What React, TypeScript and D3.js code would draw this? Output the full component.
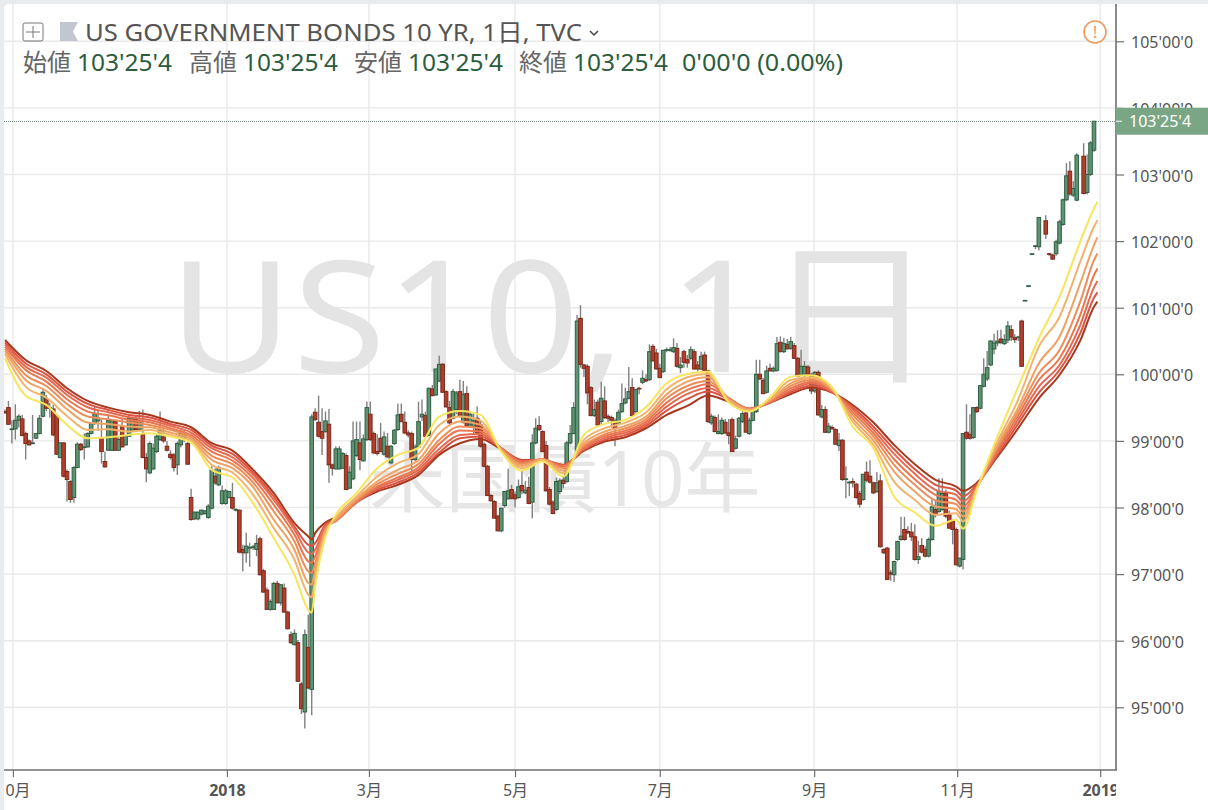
import { useEffect, useRef } from 'react';
import * as d3 from 'd3';

const FONT = "'Noto Sans','Noto Sans CJK JP',sans-serif";

const titleText = 'US GOVERNMENT BONDS 10 YR, 1日, TVC';
const ohlcLabels = ['始値', '高値', '安値', '終値'];
const ohlcLabelX = [23, 189, 354, 519];
const lastPriceText = "103'25'4";
const changeText = "0'00'0 (0.00%)";

const priceTicks = [95, 96, 97, 98, 99, 100, 101, 102, 103, 104, 105];
const monthLabels = ['10月', '2018', '3月', '5月', '7月', '9月', '11月', '2019'];
const monthDays = [2.3, 64.4, 105.6, 148, 190, 234.8, 276.3, 317.8];
const lastClose = 103.8;

const opens = [
  99.44,99.50,99.17,99.18,99.31,99.33,99.11,99.00,98.96,99.04,
  99.11,99.37,99.63,99.49,99.48,99.38,98.75,98.97,98.54,98.39,
  98.15,98.60,98.95,98.90,98.91,99.11,99.26,99.30,99.05,98.69,
  98.86,98.86,99.29,98.86,99.22,98.94,99.07,99.16,99.33,99.17,
  99.11,98.75,98.52,98.58,98.84,99.02,99.06,98.92,98.80,98.79,
  98.64,98.94,99.05,98.96,98.15,97.83,97.83,97.90,97.91,97.85,
  97.99,98.47,98.34,98.06,98.06,98.15,98.15,97.96,97.96,97.37,
  97.32,97.39,97.40,97.37,97.53,97.05,96.76,96.47,96.47,96.86,
  96.57,96.79,96.43,96.09,95.94,95.97,95.35,94.93,95.90,95.27,
  99.43,99.28,99.14,99.14,99.25,98.64,98.58,98.58,98.59,98.78,
  98.29,98.43,98.78,98.97,98.70,99.02,99.40,99.11,98.84,99.04,
  98.80,98.92,98.67,98.96,99.17,99.40,99.28,99.12,99.11,98.72,
  98.91,99.36,99.38,99.08,99.78,99.69,99.90,100.15,99.74,99.50,
  99.34,99.47,99.74,99.28,99.71,99.24,99.20,99.34,99.24,98.95,
  98.62,98.18,98.09,97.87,97.65,98.03,98.13,98.27,98.19,98.15,
  98.33,98.22,98.30,98.08,98.97,99.23,99.14,98.93,98.27,98.08,
  97.97,98.24,98.41,98.39,98.97,99.11,98.78,100.84,100.14,100.12,
  99.80,99.38,99.58,99.29,99.60,99.37,99.35,99.30,99.27,99.44,
  99.57,99.64,99.80,99.44,99.79,99.88,99.92,99.92,100.42,100.32,
  100.09,100.04,100.36,100.36,100.34,100.39,100.10,100.34,100.22,100.24,
  100.34,100.14,100.08,100.29,100.05,99.27,99.35,99.11,99.11,99.28,
  99.12,99.32,98.89,99.07,99.29,99.42,99.11,99.31,99.44,100.0,
  99.91,99.73,100.09,100.05,100.06,100.48,100.34,100.45,100.39,100.43,
  100.24,100.00,100.0,100.11,100.0,99.75,100.03,99.36,99.47,99.13,
  99.20,99.17,98.93,99.01,98.42,98.37,98.39,98.35,98.21,98.12,
  98.53,98.47,98.37,98.24,98.40,97.37,97.39,97.02,96.99,97.22,
  97.52,97.67,97.64,97.63,97.56,97.22,97.43,97.37,97.27,97.52,
  97.97,97.94,97.97,98.21,97.89,97.79,97.67,97.12,97.22,99.13,
  99.10,99.05,99.50,99.49,99.82,99.93,100.14,100.38,100.47,100.53,
  100.46,100.515,100.67,100.55,100.55,100.80,101.10,101.32,101.80,101.92,
  101.915,null,102.305,101.81,101.79,101.81,101.97,102.25,102.62,103.05,
  102.69,102.615,null,103.275,102.73,103.0,103.365,
];

const highs = [
  99.47,99.60,99.31,99.55,99.40,99.39,99.14,99.02,99.39,99.12,
  99.39,99.79,99.69,99.57,99.54,99.41,98.98,98.98,98.57,98.41,
  98.62,98.98,98.97,99.11,99.13,99.27,99.52,99.45,99.32,98.84,
  99.38,99.33,99.32,99.05,99.34,99.09,99.38,99.36,99.38,99.45,
  99.47,98.82,98.99,98.96,99.10,99.44,99.18,99.00,98.86,98.82,
  98.99,99.17,99.16,99.00,98.28,97.94,97.94,97.97,97.96,98.05,
  98.62,98.59,98.63,98.33,98.28,98.25,98.37,97.99,97.97,97.44,
  97.62,97.47,97.44,97.59,97.56,97.08,96.80,96.62,96.88,96.90,
  96.85,96.86,96.45,96.14,96.17,96.01,95.38,96.17,96.39,99.40,
  99.49,99.68,99.49,99.44,99.48,98.66,98.92,98.92,98.83,98.81,
  98.62,99.29,99.29,99.29,99.10,99.59,99.59,99.14,99.10,99.27,
  99.14,99.12,98.94,99.18,99.56,99.56,99.44,99.16,99.14,98.95,
  99.59,99.62,99.44,99.80,99.84,100.08,100.28,100.17,99.76,99.60,
  99.78,99.75,99.92,99.90,99.82,99.45,99.42,99.52,99.30,98.98,
  98.64,98.20,98.11,97.89,97.99,98.25,98.58,98.34,98.24,98.42,
  98.55,98.40,98.46,99.10,99.34,99.37,99.16,99.00,98.31,98.11,
  98.45,98.44,98.46,99.00,99.24,99.58,100.89,101.04,100.16,100.15,
  99.82,99.62,99.62,99.89,99.82,99.40,99.38,99.34,99.47,99.86,
  99.80,100.11,99.94,99.78,99.81,100.06,100.0,100.45,100.45,100.38,
  100.16,100.37,100.40,100.41,100.54,100.47,100.26,100.37,100.29,100.42,
  100.38,100.2,100.34,100.34,100.07,99.41,99.38,99.40,99.35,99.33,
  99.33,99.35,99.08,99.36,99.46,99.45,99.35,99.48,100.22,100.22,
  99.95,100.13,100.16,100.12,100.56,100.57,100.55,100.53,100.56,100.47,
  100.26,100.37,100.20,100.14,100.02,100.05,100.06,99.54,99.52,99.27,
  99.23,99.19,99.12,99.03,98.62,98.40,98.44,98.37,98.25,98.50,
  98.69,98.71,98.39,98.53,98.5,97.39,97.41,97.06,97.2,97.5,
  97.86,97.86,97.72,97.77,97.75,97.5,97.54,97.42,97.55,98.14,
  98.1,98.44,98.44,98.27,97.95,97.82,97.7,97.24,99.12,99.55,
  99.4,99.51,99.52,99.84,100.24,100.35,100.51,100.61,100.66,100.67,
  100.6,100.8,100.74,100.6,100.58,100.82,101.11,101.33,101.81,101.93,
  102.36,null,102.39,101.82,101.81,102.02,102.32,102.64,103.17,103.2,
  102.9,103.32,null,103.47,103.3,103.5,103.80,
];

const lows = [
  99.41,99.24,98.96,99.02,99.20,99.07,98.72,98.93,98.95,99.03,
  99.10,99.35,99.45,99.35,99.07,98.79,98.74,98.45,98.09,98.07,
  98.07,98.59,98.85,98.72,98.90,99.10,99.24,99.15,98.66,98.60,
  98.85,98.85,98.85,98.85,98.90,98.93,99.06,99.14,99.14,99.15,
  98.74,98.38,98.50,98.56,98.82,99.00,98.97,98.84,98.72,98.54,
  98.49,98.90,98.98,98.64,97.80,97.81,97.81,97.88,97.89,97.83,
  97.97,98.34,98.32,98.04,98.04,98.13,97.97,97.94,97.31,97.04,
  97.17,97.11,97.36,97.27,96.98,96.72,96.46,96.45,96.46,96.56,
  96.53,96.42,96.17,95.95,95.93,95.38,94.90,94.68,95.27,94.88,
  99.30,99.05,98.79,99.12,98.37,98.48,98.57,98.57,98.58,98.26,
  98.28,98.41,98.76,98.56,98.69,99.00,99.00,98.80,98.78,98.83,
  98.78,98.75,98.65,98.94,99.15,99.28,99.10,99.05,98.50,98.70,
  98.89,99.30,99.06,99.07,99.67,99.68,99.88,99.72,99.50,99.25,
  99.32,99.40,99.35,99.26,99.22,99.22,99.10,99.10,98.90,98.60,
  98.17,98.09,97.84,97.64,97.63,98.00,98.12,98.12,98.00,98.13,
  98.20,98.20,98.05,97.84,98.95,99.15,98.83,98.24,98.03,97.90,
  97.95,98.20,98.29,98.37,98.95,99.10,98.76,100.10,99.96,99.55,
  99.37,99.36,99.23,99.25,99.33,99.28,99.20,98.92,99.25,99.42,
  99.55,99.62,99.37,99.42,99.70,99.85,99.88,99.90,100.20,100.07,
  99.95,100.02,100.33,100.34,100.32,100.10,100.02,100.10,100.10,100.22,
  100.07,100.04,100.06,100.05,99.27,99.24,99.13,99.10,99.09,99.10,
  98.95,98.84,98.87,99.05,99.27,99.13,99.09,99.29,99.42,99.92,
  99.70,99.71,100.05,100.03,100.04,100.33,100.32,100.38,100.37,100.23,
  99.96,99.98,99.92,99.98,99.70,99.72,99.38,99.34,99.12,99.11,
  99.17,98.95,98.85,98.40,98.14,98.17,98.3,98.13,98.0,98.10,
  98.38,98.36,98.20,98.22,97.40,97.3,96.91,96.9,96.88,97.2,
  97.5,97.5,97.6,97.5,97.2,97.15,97.31,97.25,97.25,97.5,
  97.85,97.92,97.95,97.84,97.68,97.45,97.13,97.1,97.07,99.02,
  99.02,99.03,99.42,99.47,99.8,99.9,100.12,100.3,100.42,100.45,
  100.44,100.47,100.5,100.47,100.5,100.11,101.10,101.32,101.80,101.88,
  101.86,null,102.03,101.78,101.72,101.78,101.95,102.23,102.6,102.68,
  102.66,102.6,null,102.7,102.7,102.98,103.34,
];

const closes = [
  99.42,99.25,99.18,99.31,99.37,99.08,98.96,98.94,98.97,99.11,
  99.34,99.73,99.49,99.50,99.09,98.80,98.97,98.47,98.42,98.12,
  98.60,98.95,98.87,98.91,99.11,99.26,99.41,99.34,98.84,98.61,
  99.31,99.31,98.86,99.02,98.91,99.07,99.34,99.33,99.17,99.30,
  98.75,98.58,98.96,98.89,99.07,99.17,99.00,98.86,98.75,98.60,
  98.96,99.11,99.08,98.65,97.82,97.93,97.93,97.96,97.95,98.02,
  98.56,98.37,98.60,98.25,98.25,98.24,97.99,97.97,97.33,97.32,
  97.42,97.40,97.41,97.46,96.99,96.73,96.47,96.59,96.86,96.57,
  96.84,96.43,96.18,95.97,96.11,95.39,94.98,96.09,95.29,99.36,
  99.32,99.07,99.04,99.30,98.64,98.59,98.88,98.88,98.81,98.27,
  98.53,99.00,99.02,98.72,99.03,99.50,99.02,98.82,98.81,98.84,
  99.06,98.76,98.92,99.16,99.39,99.29,99.12,99.09,98.72,98.91,
  99.29,99.40,99.07,99.79,99.68,100.08,100.15,99.73,99.51,99.27,
  99.74,99.72,99.37,99.70,99.23,99.40,99.30,99.12,98.92,98.62,
  98.18,98.10,97.84,97.65,97.99,98.24,98.25,98.14,98.13,98.31,
  98.25,98.26,98.06,98.97,99.19,99.17,98.84,98.25,98.05,97.91,
  98.39,98.40,98.36,98.97,99.11,99.50,100.80,100.15,100.09,99.72,
  99.38,99.47,99.24,99.64,99.35,99.34,99.31,99.19,99.43,99.56,
  99.63,99.74,99.38,99.77,99.78,99.94,99.90,100.34,100.20,100.08,
  99.95,100.36,100.37,100.37,100.40,100.12,100.14,100.18,100.17,100.37,
  100.08,100.08,100.27,100.06,99.29,99.37,99.14,99.14,99.31,99.12,
  99.08,98.84,99.03,99.34,99.41,99.13,99.31,99.45,100.00,99.93,
  99.71,100.05,100.05,100.09,100.46,100.34,100.46,100.38,100.49,100.24,
  99.97,100.12,100.12,100.0,99.75,100.03,99.39,99.47,99.13,99.22,
  99.18,98.95,99.01,98.42,98.43,98.38,98.37,98.15,98.05,98.50,
  98.41,98.38,98.22,98.37,97.41,97.32,96.92,97.0,97.19,97.49,
  97.57,97.52,97.62,97.56,97.22,97.26,97.33,97.27,97.52,98.01,
  97.89,98.24,98.21,97.87,97.69,97.67,97.14,97.24,99.11,99.04,
  99.04,99.50,99.44,99.83,100.0,100.1,100.5,100.47,100.5,100.48,
  100.52,100.725,100.56,100.52,100.56,100.12,101.11,101.33,101.81,101.93,
  102.355,null,102.105,101.80,101.73,101.99,102.29,102.62,102.98,102.71,
  102.79,103.29,null,102.715,103.0,103.475,103.80,
];

const ribbonDays = [0,6,12,18,24,30,36,42,48,54,60,66,72,78,84,88,89,90,93,96,102,108,114,120,126,132,138,144,150,156,162,168,174,180,186,192,198,204,210,216,222,228,234,240,246,252,258,264,270,276,278,282,288,294,300,306,312,316,317];

const ribbon1 = [100.24,99.68,99.54,99.24,99.04,99.055,99.09,99.115,99.065,98.975,98.565,98.45,98.065,97.54,96.99,96.465,96.42,96.815,97.565,97.89,98.215,98.59,98.79,98.90,99.365,99.45,99.39,98.84,98.555,98.69,98.465,99.09,99.255,99.315,99.505,99.865,100.005,100.04,99.575,99.44,99.655,99.965,99.985,99.805,99.215,98.89,98.165,97.925,97.725,97.815,97.68,98.265,99.065,99.81,100.54,101.165,101.99,102.49,102.59];
const ribbon2 = [100.305,99.815,99.65,99.375,99.165,99.175,99.14,99.165,99.09,99.0,98.64,98.525,98.19,97.69,97.215,96.69,96.65,96.94,97.615,97.85,98.165,98.465,98.665,98.805,99.24,99.365,99.305,98.855,98.59,98.715,98.515,99.015,99.19,99.275,99.425,99.775,99.955,100.005,99.6,99.455,99.63,99.915,99.955,99.79,99.29,98.94,98.39,98.115,97.89,97.915,97.79,98.28,98.99,99.62,100.415,100.865,101.69,102.215,102.315];
const ribbon3 = [100.35,99.915,99.75,99.475,99.275,99.255,99.215,99.205,99.125,99.025,98.715,98.59,98.305,97.815,97.365,96.865,96.84,97.065,97.65,97.825,98.13,98.39,98.565,98.715,99.115,99.29,99.24,98.865,98.625,98.72,98.555,98.965,99.14,99.225,99.365,99.7,99.89,99.955,99.625,99.465,99.615,99.865,99.94,99.775,99.34,99.005,98.54,98.24,98.015,97.975,97.865,98.29,98.94,99.5,100.165,100.565,101.365,101.94,102.055];
const ribbon4 = [100.38,99.99,99.825,99.555,99.365,99.325,99.275,99.24,99.165,99.055,98.775,98.65,98.375,97.94,97.49,97.04,97.02,97.165,97.675,97.805,98.105,98.35,98.505,98.655,99.015,99.215,99.19,98.88,98.655,98.725,98.59,98.93,99.1,99.19,99.325,99.64,99.825,99.9,99.64,99.475,99.6,99.825,99.915,99.765,99.39,99.065,98.64,98.34,98.105,98.05,97.94,98.3,98.905,99.44,100.015,100.365,101.09,101.715,101.815];
const ribbon5 = [100.415,100.065,99.89,99.625,99.44,99.385,99.315,99.28,99.19,99.085,98.84,98.705,98.44,98.04,97.59,97.19,97.17,97.265,97.70,97.795,98.085,98.315,98.45,98.605,98.955,99.155,99.14,98.89,98.675,98.725,98.615,98.905,99.075,99.155,99.29,99.575,99.765,99.85,99.645,99.48,99.59,99.79,99.89,99.755,99.435,99.115,98.725,98.425,98.19,98.115,98.015,98.31,98.865,99.38,99.915,100.24,100.89,101.49,101.59];
const ribbon6 = [100.45,100.115,99.95,99.69,99.505,99.43,99.355,99.315,99.225,99.125,98.89,98.755,98.49,98.115,97.665,97.325,97.3,97.365,97.725,97.805,98.075,98.29,98.415,98.565,98.88,99.09,99.105,98.89,98.695,98.72,98.63,98.885,99.045,99.125,99.255,99.515,99.705,99.795,99.64,99.485,99.58,99.755,99.865,99.74,99.475,99.165,98.805,98.505,98.265,98.19,98.09,98.32,98.83,99.32,99.815,100.14,100.74,101.305,101.40];
const ribbon7 = [100.48,100.165,100.0,99.74,99.555,99.465,99.39,99.35,99.255,99.165,98.93,98.805,98.525,98.165,97.715,97.44,97.42,97.465,97.745,97.825,98.075,98.265,98.375,98.525,98.825,99.04,99.065,98.89,98.705,98.715,98.64,98.87,99.015,99.09,99.225,99.455,99.63,99.74,99.625,99.485,99.575,99.73,99.83,99.73,99.505,99.215,98.875,98.575,98.34,98.255,98.165,98.345,98.79,99.26,99.725,100.065,100.615,101.15,101.23];
const ribbon8 = [100.515,100.215,100.05,99.79,99.60,99.50,99.43,99.39,99.29,99.205,98.965,98.855,98.565,98.215,97.765,97.565,97.52,97.615,97.775,97.855,98.085,98.24,98.34,98.49,98.79,98.965,99.03,98.875,98.715,98.71,98.64,98.855,98.99,99.055,99.19,99.39,99.525,99.68,99.59,99.475,99.575,99.705,99.8,99.725,99.54,99.275,98.94,98.65,98.415,98.315,98.25,98.37,98.765,99.19,99.64,99.99,100.505,101.015,101.09];

const ribbons = [ribbon8, ribbon7, ribbon6, ribbon5, ribbon4, ribbon3, ribbon2, ribbon1];
const ribbonColors = ['#a8391d', '#dc5444', '#e56a52', '#e9774f', '#ec8d5a', '#f0a262', '#f2b36c', '#f7e55e'];

// 103.5 -> 103'16'0, the way bond futures are quoted
function fmtPrice(p: number) {
  const whole = Math.floor(p);
  const frac = (p - whole) * 32;
  const t = Math.floor(frac);
  return `${whole}'${String(t).padStart(2, '0')}'${Math.round((frac - t) * 10)}`;
}

export default function App() {
  const svgRef = useRef<SVGSVGElement>(null);

  useEffect(() => {
    if (!svgRef.current) return;
    const svg = d3.select(svgRef.current);
    svg.selectAll('*').remove();

    const width = 1208;
    const height = 810;
    const left = 4;
    const top = 4;
    const axisX = 1116;
    const axisY = 770;

    const x = d3.scaleLinear().domain([0, 316]).range([5, 1094]);
    const y = d3.scaleLinear().domain([95, 105]).range([707.3, 41.3]);

    // page and card
    svg.append('rect').attr('width', width).attr('height', height).attr('fill', '#e8ecef');
    svg.append('rect').attr('x', left).attr('y', top).attr('width', width).attr('height', height).attr('rx', 5).attr('fill', '#fff');

    const defs = svg.append('defs');
    defs.append('clipPath').attr('id', 'pane').append('rect')
      .attr('x', left).attr('y', top).attr('width', axisX - left).attr('height', axisY - top);
    defs.append('clipPath').attr('id', 'timeaxis').append('rect')
      .attr('x', left).attr('y', axisY).attr('width', axisX - left).attr('height', height - axisY);

    const pane = svg.append('g').attr('clip-path', 'url(#pane)');

    // grid
    pane.selectAll('line.h').data(priceTicks).enter().append('line')
      .attr('x1', left).attr('x2', axisX)
      .attr('y1', d => y(d)).attr('y2', d => y(d))
      .attr('stroke', '#e9e9e9').attr('stroke-width', 1.4);
    pane.selectAll('line.v').data(monthDays).enter().append('line')
      .attr('x1', d => x(d)).attr('x2', d => x(d))
      .attr('y1', top).attr('y2', axisY)
      .attr('stroke', '#e9e9e9').attr('stroke-width', 1.4);

    // watermark
    pane.append('text').attr('x', 552).attr('y', 372).attr('text-anchor', 'middle')
      .attr('font-family', FONT).attr('font-size', 156).attr('fill', '#e4e4e4')
      .attr('textLength', 766).attr('lengthAdjust', 'spacingAndGlyphs').text('US10, 1日');
    pane.append('text').attr('x', 565).attr('y', 506).attr('text-anchor', 'middle')
      .attr('font-family', FONT).attr('font-size', 76).attr('fill', '#e6e6e6').text('米国債10年');

    // candles
    const bars = d3.range(opens.length).filter(i => opens[i] !== null);
    pane.selectAll('line.wick').data(bars).enter().append('line')
      .attr('x1', i => x(i)).attr('x2', i => x(i))
      .attr('y1', i => y(highs[i] as number)).attr('y2', i => y(lows[i] as number))
      .attr('stroke', '#808080').attr('stroke-width', 1.4);
    pane.selectAll('rect.bar').data(bars).enter().append('rect')
      .attr('x', i => x(i) - 1.8)
      .attr('width', 3.6)
      .attr('y', i => y(Math.max(opens[i] as number, closes[i] as number)))
      .attr('height', i => Math.max(0.6, Math.abs(y(opens[i] as number) - y(closes[i] as number))))
      .attr('fill', i => (closes[i] as number) >= (opens[i] as number) ? '#5f9373' : '#b23f2d')
      .attr('stroke', i => (closes[i] as number) >= (opens[i] as number) ? '#2e5f42' : '#7a2a1b')
      .attr('stroke-width', 1);

    // moving average ribbon
    const line = d3.line<number>()
      .x((_, k) => x(ribbonDays[k]))
      .y(d => y(d))
      .curve(d3.curveMonotoneX);
    ribbons.forEach((values, k) => {
      pane.append('path').attr('d', line(values)).attr('fill', 'none')
        .attr('stroke', ribbonColors[k]).attr('stroke-width', 2);
    });

    // last price line
    pane.append('line').attr('x1', left).attr('x2', axisX)
      .attr('y1', y(lastClose) + 0.3).attr('y2', y(lastClose) + 0.3)
      .attr('stroke', '#4b6b58').attr('stroke-width', 0.8).attr('stroke-dasharray', '1 1');

    // price axis
    const priceAxis = d3.axisRight(y).tickValues(priceTicks).tickFormat(d => fmtPrice(+d)).tickSize(8).tickPadding(7);
    const priceG = svg.append('g').attr('transform', `translate(${axisX},0)`).call(priceAxis);
    priceG.select('.domain').attr('d', `M0,${top}V${axisY}`).attr('stroke', '#6f6f6f').attr('stroke-width', 1.6);
    priceG.selectAll('.tick line').attr('stroke', '#6f6f6f').attr('stroke-width', 1.2);
    priceG.selectAll('.tick text').attr('font-family', FONT).attr('font-size', 16).attr('fill', '#555').attr('y', 1.5);

    // time axis, labels at both ends get cut by the pane edge
    const timeAxis = d3.axisBottom(x).tickValues(monthDays).tickFormat((_, k) => monthLabels[k]).tickSize(7).tickPadding(8);
    const timeG = svg.append('g').attr('clip-path', 'url(#timeaxis)')
      .append('g').attr('transform', `translate(0,${axisY})`).call(timeAxis);
    timeG.select('.domain').remove();
    timeG.selectAll('.tick line').attr('stroke', '#6f6f6f').attr('stroke-width', 1.2);
    timeG.selectAll('.tick text').attr('font-family', FONT).attr('font-size', 16).attr('fill', '#555')
      .attr('font-weight', (_, k) => monthLabels[k].length === 4 ? 700 : 400);
    svg.append('line').attr('x1', left).attr('x2', axisX + 1).attr('y1', axisY).attr('y2', axisY)
      .attr('stroke', '#6f6f6f').attr('stroke-width', 1.6);

    // last price tag
    svg.append('rect').attr('x', axisX).attr('y', y(lastClose) - 13.5).attr('width', width - axisX).attr('height', 27).attr('fill', '#7ba685');
    svg.append('line').attr('x1', axisX).attr('x2', axisX + 6).attr('y1', y(lastClose)).attr('y2', y(lastClose)).attr('stroke', '#fff');
    svg.append('text').attr('x', axisX + 13).attr('y', y(lastClose) + 6)
      .attr('font-family', FONT).attr('font-size', 16).attr('fill', '#fff').text(lastPriceText);

    // legend
    const btn = svg.append('g').attr('fill', 'none').attr('stroke', '#777').attr('stroke-width', 1);
    btn.append('rect').attr('x', 23).attr('y', 23).attr('width', 20).attr('height', 18).attr('rx', 2);
    btn.append('path').attr('d', 'M33,26V38M26,32H40');
    svg.append('path').attr('d', 'M60,22H78L73,31.5L78,41H60Z').attr('fill', '#c1c6d0');
    svg.append('text').attr('x', 85).attr('y', 41).attr('font-family', FONT).attr('font-size', 24).attr('fill', '#555')
      .attr('textLength', 497).attr('lengthAdjust', 'spacingAndGlyphs').text(titleText);
    svg.append('path').attr('d', 'M590,31L594,35L598,31').attr('fill', 'none').attr('stroke', '#444').attr('stroke-width', 1.5);

    ohlcLabels.forEach((label, k) => {
      svg.append('text').attr('x', ohlcLabelX[k]).attr('y', 71).attr('font-family', FONT).attr('font-size', 24)
        .attr('fill', '#666').text(label);
      svg.append('text').attr('x', ohlcLabelX[k] + 54).attr('y', 71).attr('font-family', FONT).attr('font-size', 24)
        .attr('fill', '#2b5d3d').attr('textLength', 95).attr('lengthAdjust', 'spacingAndGlyphs').text(lastPriceText);
    });
    svg.append('text').attr('x', 682).attr('y', 71).attr('font-family', FONT).attr('font-size', 24)
      .attr('fill', '#2b5d3d').attr('textLength', 161).attr('lengthAdjust', 'spacingAndGlyphs').text(changeText);

    // warning badge
    svg.append('circle').attr('cx', 1095).attr('cy', 32).attr('r', 11).attr('fill', '#fff').attr('stroke', '#f09a5c').attr('stroke-width', 1.6);
    svg.append('text').attr('x', 1095).attr('y', 38).attr('text-anchor', 'middle').attr('font-family', FONT)
      .attr('font-size', 17).attr('fill', '#f09a5c').text('!');
  }, []);

  return <svg ref={svgRef} width={1208} height={810} style={{ position: 'absolute', left: 0, top: 0 }} />;
}
